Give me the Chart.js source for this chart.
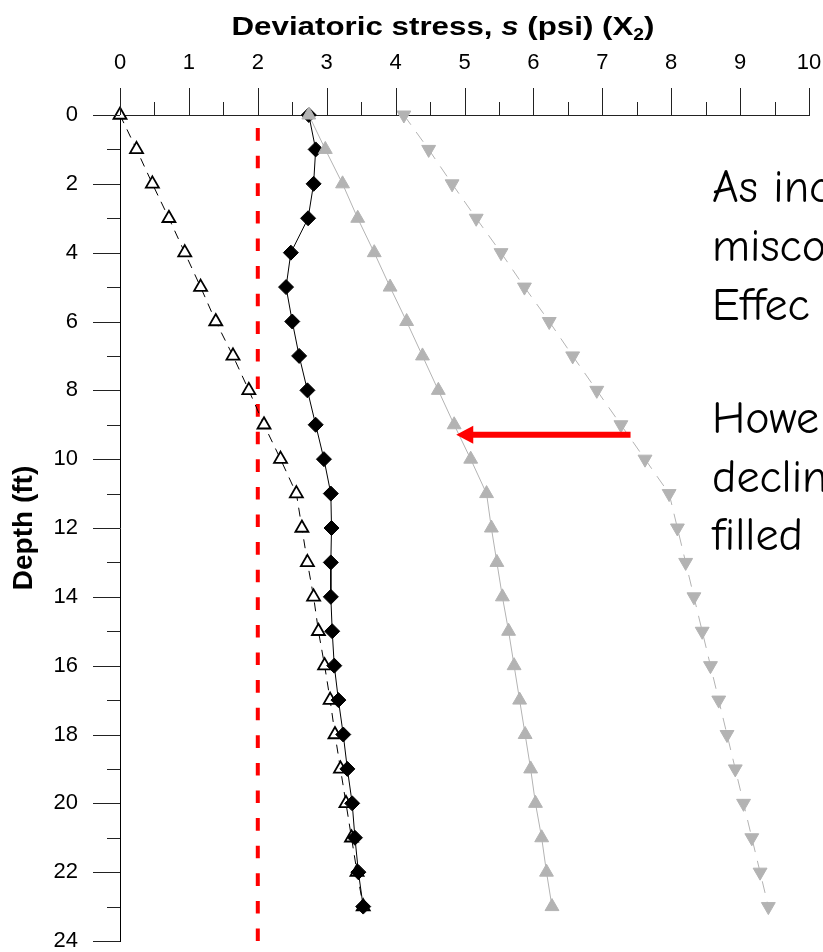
<!DOCTYPE html>
<html>
<head>
<meta charset="utf-8">
<script src="https://cdn.jsdelivr.net/npm/chart.js@4.4.1/dist/chart.umd.min.js"></script>
<style>
html,body{margin:0;padding:0;background:#fff;overflow:hidden}
#wrap{position:relative;width:823px;height:952px}
</style>
</head>
<body>
<div id="wrap"><canvas id="c" width="823" height="952"></canvas></div>
<script>
// ---- data ----
const depths = [0,1,2,3,4,5,6,7,8,9,10,11,12,13,14,15,16,17,18,19,20,21,22,23];
const stressOpenTri = [0.00,0.24,0.47,0.71,0.94,1.17,1.39,1.64,1.87,2.09,2.33,2.56,2.64,2.72,2.81,2.88,2.97,3.05,3.12,3.20,3.28,3.36,3.44,3.53];
const stressDiamond = [2.74,2.84,2.81,2.73,2.48,2.41,2.50,2.60,2.72,2.84,2.96,3.06,3.07,3.06,3.06,3.08,3.11,3.17,3.24,3.30,3.37,3.41,3.46,3.53];
const stressGrayUp  = [2.74,2.98,3.23,3.45,3.69,3.92,4.16,4.39,4.62,4.85,5.09,5.32,5.39,5.47,5.55,5.64,5.72,5.80,5.88,5.96,6.03,6.12,6.19,6.27];
const stressGrayDown= [4.12,4.48,4.82,5.17,5.53,5.87,6.23,6.57,6.92,7.27,7.62,7.97,8.09,8.21,8.33,8.45,8.57,8.69,8.81,8.93,9.05,9.17,9.29,9.41];
const refLineStress = [2, 2];
const refLineDepth  = [0.38, 24];
const arrowStress = [7.41, 4.88];   // from, to
const arrowDepth  = [9.29, 9.29];
const xMajorTicks = [0,1,2,3,4,5,6,7,8,9,10];
const xMinorTicks = [0.5,1.5,2.5,3.5,4.5,5.5,6.5,7.5,8.5,9.5];
const yMajorTicks = [0,2,4,6,8,10,12,14,16,18,20,22,24];
const yMinorTicks = [1,3,5,7,9,11,13,15,17,19,21,23];
const noteTop = ["As inc", "misco", "Effec"];
const noteBottom = ["Howe", "declin", "filled"];

const pts = (xs, ys) => xs.map((v, i) => ({x: v, y: ys[i]}));
const GRAY = '#b3b3b3';
const FONT = '"Liberation Sans", Arial, Helvetica, sans-serif';

const decor = {
  id: 'decor',
  afterDraw(chart) {
    const {ctx, scales: {x, y}, chartArea: a} = chart;
    ctx.save();
    // ticks
    ctx.strokeStyle = '#222';
    ctx.lineWidth = 1;
    const tx = (vals, len) => vals.forEach(v => {
      const p = Math.round(x.getPixelForValue(v)) + 0.5;
      ctx.beginPath(); ctx.moveTo(p, a.top); ctx.lineTo(p, a.top - len); ctx.stroke();
    });
    const ty = (vals, len) => vals.forEach(v => {
      const p = Math.round(y.getPixelForValue(v)) + 0.5;
      ctx.beginPath(); ctx.moveTo(a.left, p); ctx.lineTo(a.left - len, p); ctx.stroke();
    });
    tx(xMajorTicks, 27); tx(xMinorTicks, 13);
    ty(yMajorTicks, 27); ty(yMinorTicks, 13);

    // arrow
    const x0 = x.getPixelForValue(arrowStress[0]), y0 = y.getPixelForValue(arrowDepth[0]);
    const x1 = x.getPixelForValue(arrowStress[1]), y1 = y.getPixelForValue(arrowDepth[1]);
    const head = 17, half = 9;
    ctx.strokeStyle = '#ff0000'; ctx.fillStyle = '#ff0000';
    ctx.lineWidth = 6; ctx.lineCap = 'butt';
    ctx.beginPath(); ctx.moveTo(x0, y0); ctx.lineTo(x1 + head - 1, y1); ctx.stroke();
    ctx.beginPath(); ctx.moveTo(x1, y1); ctx.lineTo(x1 + head, y1 - half); ctx.lineTo(x1 + head, y1 + half); ctx.closePath(); ctx.fill();

    // title with mixed styles
    const size = 26;
    const parts = [
      {t: 'Deviatoric stress, ', f: `bold ${size}px ${FONT}`, dy: 0},
      {t: 's', f: `italic bold ${size}px ${FONT}`, dy: 0},
      {t: ' (psi) (X', f: `bold ${size}px ${FONT}`, dy: 0},
      {t: '2', f: `bold ${Math.round(size*0.62)}px ${FONT}`, dy: 5},
      {t: ')', f: `bold ${size}px ${FONT}`, dy: 0}
    ];
    let total = 0;
    parts.forEach(p => { ctx.font = p.f; p.w = ctx.measureText(p.t).width; total += p.w; });
    const targetW = 423, sx = targetW / total;
    ctx.save();
    ctx.translate(443 - targetW / 2, 35);
    ctx.scale(sx, 1);
    ctx.fillStyle = '#000'; ctx.textBaseline = 'alphabetic'; ctx.textAlign = 'left';
    let cx = 0;
    parts.forEach(p => { ctx.font = p.f; ctx.fillText(p.t, cx, p.dy); cx += p.w; });
    ctx.restore();

    // notes
    ctx.fillStyle = '#000'; ctx.textAlign = 'left'; ctx.textBaseline = 'alphabetic';
    ctx.font = '46px "Comic Sans MS", "Comic Neue", "DejaVu Sans", sans-serif';
    noteTop.forEach((s, i) => ctx.fillText(s, 712, 202 + i * 59));
    noteBottom.forEach((s, i) => ctx.fillText(s, 712, 433 + i * 58.5));
    ctx.restore();
  }
};

new Chart(document.getElementById('c'), {
  type: 'scatter',
  data: {
    datasets: [
      {data: pts(refLineStress, refLineDepth), showLine: true, borderColor: '#ff0000', borderWidth: 4,
       borderDash: [12.6, 15], pointRadius: 0, order: 5, clip: false},
      {data: pts(stressOpenTri, depths), showLine: true, borderColor: '#000', borderWidth: 1, borderDash: [9, 7],
       pointStyle: 'triangle', pointRadius: 7.5, pointBackgroundColor: '#fff', pointBorderColor: '#000',
       pointBorderWidth: 1.8, order: 4, clip: false},
      {data: pts(stressDiamond, depths), showLine: true, borderColor: '#000', borderWidth: 1,
       pointStyle: 'rectRot', pointRadius: 7.5, pointBackgroundColor: '#000', pointBorderColor: '#000',
       pointBorderWidth: 1, order: 3, clip: false},
      {data: pts(stressGrayUp, depths), showLine: true, borderColor: GRAY, borderWidth: 1,
       pointStyle: 'triangle', pointRadius: 8, pointBackgroundColor: GRAY, pointBorderColor: GRAY,
       pointBorderWidth: 1, order: 2, clip: false},
      {data: pts(stressGrayDown, depths), showLine: true, borderColor: GRAY, borderWidth: 1, borderDash: [12, 9],
       pointStyle: 'triangle', pointRotation: 180, pointRadius: 8, pointBackgroundColor: GRAY, pointBorderColor: GRAY,
       pointBorderWidth: 1, order: 1, clip: false}
    ]
  },
  options: {
    responsive: false,
    animation: false,
    devicePixelRatio: 1,
    layout: {padding: {top: 0, left: 0, right: 14, bottom: 11}},
    plugins: {legend: {display: false}, tooltip: {enabled: false}, title: {display: false}},
    scales: {
      x: {
        type: 'linear', position: 'top', min: 0, max: 10,
        ticks: {stepSize: 1, padding: 39, color: '#000', font: {family: FONT, size: 22}},
        grid: {display: true, drawOnChartArea: false, drawTicks: false},
        border: {display: true, color: '#222', width: 1},
        afterFit: s => { s.height = 115; s.paddingLeft = 0; s.paddingRight = 0; }
      },
      y: {
        type: 'linear', position: 'left', reverse: true, min: 0, max: 24,
        ticks: {stepSize: 2, padding: 42, color: '#000', font: {family: FONT, size: 22}},
        grid: {display: true, drawOnChartArea: false, drawTicks: false},
        border: {display: true, color: '#000', width: 1},
        title: {display: true, text: 'Depth (ft)', color: '#000', padding: {top: 7, bottom: 0},
                font: {family: FONT, size: 28, weight: 'bold'}},
        afterFit: s => { s.width = 120; s.paddingTop = 0; s.paddingBottom = 0; }
      }
    }
  },
  plugins: [decor]
});
</script>
</body>
</html>
